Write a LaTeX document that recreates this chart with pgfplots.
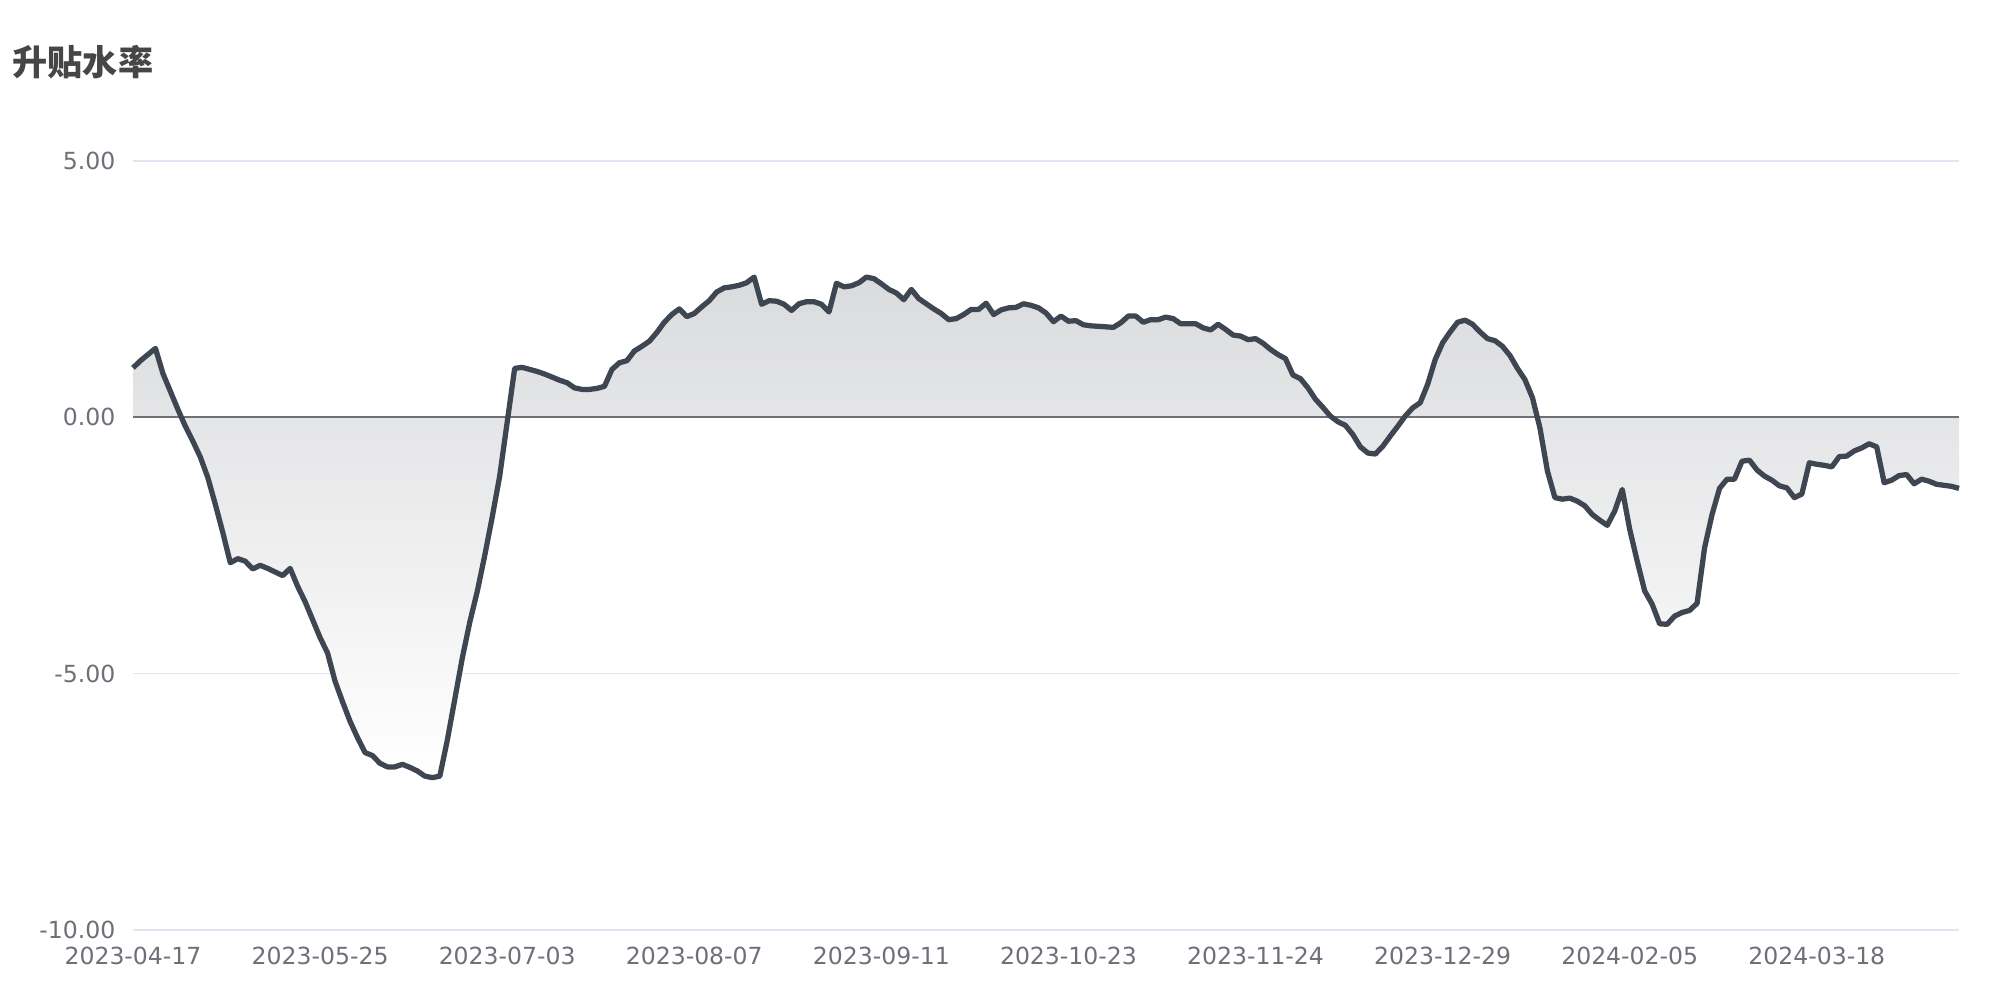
\documentclass[border=0pt]{standalone}
\usepackage{pgfplots}
\pgfplotsset{compat=1.18}
\usepackage{pgfplotstable}
\usepackage{fontspec}
\setmainfont{DejaVu Sans}
\newfontfamily\cjk{Noto Sans CJK SC}
\definecolor{linec}{HTML}{3D4651}
\definecolor{tickc}{HTML}{6E7079}
\definecolor{gridc}{HTML}{E0E6F1}
\definecolor{titlec}{HTML}{464646}
\definecolor{filltop}{RGB}{218,219,221}

\pgfplotstableread{
i v
0 0.96
1 1.10
2 1.22
3 1.34
4 0.85
5 0.50
6 0.15
7 -0.18
8 -0.47
9 -0.78
10 -1.18
11 -1.70
12 -2.25
13 -2.84
14 -2.76
15 -2.81
16 -2.96
17 -2.89
18 -2.95
19 -3.02
20 -3.09
21 -2.95
22 -3.30
23 -3.60
24 -3.95
25 -4.30
26 -4.60
27 -5.15
28 -5.55
29 -5.93
30 -6.25
31 -6.54
32 -6.60
33 -6.75
34 -6.82
35 -6.82
36 -6.77
37 -6.83
38 -6.90
39 -7.00
40 -7.03
41 -7.00
42 -6.30
43 -5.50
44 -4.70
45 -4.00
46 -3.40
47 -2.70
48 -1.95
49 -1.15
50 -0.10
51 0.95
52 0.97
53 0.93
54 0.89
55 0.84
56 0.78
57 0.72
58 0.67
59 0.57
60 0.54
61 0.54
62 0.56
63 0.60
64 0.93
65 1.06
66 1.10
67 1.29
68 1.38
69 1.48
70 1.65
71 1.85
72 2.00
73 2.11
74 1.96
75 2.02
76 2.15
77 2.27
78 2.44
79 2.52
80 2.54
81 2.57
82 2.62
83 2.73
84 2.20
85 2.27
86 2.26
87 2.20
88 2.08
89 2.21
90 2.25
91 2.25
92 2.20
93 2.05
94 2.61
95 2.54
96 2.56
97 2.62
98 2.73
99 2.70
100 2.60
101 2.49
102 2.42
103 2.29
104 2.49
105 2.31
106 2.21
107 2.11
108 2.02
109 1.90
110 1.92
111 2.00
112 2.10
113 2.10
114 2.22
115 2.00
116 2.09
117 2.13
118 2.14
119 2.21
120 2.18
121 2.13
122 2.03
123 1.86
124 1.97
125 1.87
126 1.88
127 1.80
128 1.78
129 1.77
130 1.76
131 1.75
132 1.84
133 1.97
134 1.97
135 1.85
136 1.90
137 1.90
138 1.95
139 1.92
140 1.82
141 1.82
142 1.82
143 1.74
144 1.70
145 1.81
146 1.71
147 1.60
148 1.58
149 1.51
150 1.53
151 1.44
152 1.32
153 1.22
154 1.14
155 0.82
156 0.75
157 0.57
158 0.35
159 0.19
160 0.02
161 -0.09
162 -0.16
163 -0.34
164 -0.58
165 -0.70
166 -0.72
167 -0.57
168 -0.37
169 -0.18
170 0.02
171 0.18
172 0.28
173 0.64
174 1.12
175 1.45
176 1.66
177 1.85
178 1.89
179 1.81
180 1.66
181 1.53
182 1.49
183 1.38
184 1.20
185 0.95
186 0.73
187 0.38
188 -0.21
189 -1.05
190 -1.57
191 -1.60
192 -1.58
193 -1.64
194 -1.73
195 -1.90
196 -2.01
197 -2.11
198 -1.83
199 -1.41
200 -2.19
201 -2.81
202 -3.39
203 -3.65
204 -4.03
205 -4.04
206 -3.88
207 -3.81
208 -3.77
209 -3.63
210 -2.55
211 -1.90
212 -1.39
213 -1.21
214 -1.21
215 -0.86
216 -0.84
217 -1.03
218 -1.15
219 -1.23
220 -1.34
221 -1.38
222 -1.57
223 -1.50
224 -0.89
225 -0.92
226 -0.94
227 -0.97
228 -0.77
229 -0.76
230 -0.66
231 -0.60
232 -0.52
233 -0.58
234 -1.28
235 -1.23
236 -1.14
237 -1.12
238 -1.30
239 -1.21
240 -1.25
241 -1.31
242 -1.33
243 -1.35
244 -1.39
}\datatable

\begin{document}
\begin{tikzpicture}
\useasboundingbox (0,0) rectangle (20cm,10cm);
\node[anchor=west, inner sep=0pt, text=titlec, font=\cjk\bfseries\fontsize{10}{12}\selectfont] at (0.12cm,9.375cm) {升贴水率};
\begin{axis}[
  at={(1.33cm,0.70cm)}, anchor=south west,
  width=18.26cm, height=7.693cm, scale only axis,
  xmin=0, xmax=244, ymin=-10, ymax=5,
  clip=false,
  axis line style={draw=none},
  major tick length=0pt,
  tick style={draw=none},
  ytick={-10,-5,0,5},
  yticklabels={-10.00,-5.00,0.00,5.00},
  xtick={0,25,50,75,100,125,150,175,200,225},
  xticklabels={2023-04-17,2023-05-25,2023-07-03,2023-08-07,2023-09-11,2023-10-23,2023-11-24,2023-12-29,2024-02-05,2024-03-18},
  ymajorgrids, grid style={color=gridc, line width=0.5pt},
  yticklabel style={anchor=east, inner sep=0pt, xshift=-0.17cm, text=tickc, font=\fontsize{6.7}{8}\selectfont},
  xticklabel style={anchor=north, inner sep=0pt, yshift=-0.165cm, text=tickc, font=\fontsize{6.7}{8}\selectfont},
]
\addplot[draw=none, top color=filltop, bottom color=white, shading angle=0] table[x=i, y=v] {\datatable} \closedcycle;
\addplot[color=tickc, line width=0.5pt] coordinates {(0,0) (244,0)};
\addplot[color=linec, line width=1.5pt, line join=round, mark=none] table[x=i, y=v] {\datatable};
\end{axis}
\end{tikzpicture}
\end{document}
